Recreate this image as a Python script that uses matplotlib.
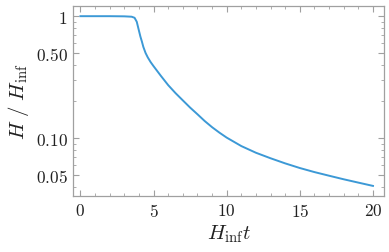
import numpy as np
import matplotlib.pyplot as plt
from matplotlib.ticker import FixedLocator, FixedFormatter, LogLocator, NullFormatter, MultipleLocator

plt.rcParams['mathtext.fontset'] = 'cm'
plt.rcParams['font.family'] = 'serif'
plt.rcParams['font.serif'] = ['cmr10', 'DejaVu Serif']

# values
t = [0, 1, 2, 3, 3.5, 3.7, 3.85, 4.0, 4.1, 4.2, 4.3, 4.45, 4.6, 4.8, 5.0,
     5.5, 6, 6.5, 7, 7.5, 8, 8.5, 9, 9.5, 10, 11, 12, 13, 14, 15,
     16, 17, 18, 19, 20]
H = [1, 1, 1, 0.997, 0.99, 0.97, 0.9, 0.76, 0.68, 0.62, 0.56, 0.50, 0.46, 0.42, 0.389,
     0.324, 0.272, 0.234, 0.204, 0.178, 0.157, 0.138, 0.123, 0.111, 0.101, 0.0861,
     0.0759, 0.0684, 0.0621, 0.0569, 0.0527, 0.0492, 0.046, 0.0432, 0.0406]

xticks = [0, 5, 10, 15, 20]
yticks = [0.05, 0.1, 0.5, 1]
ytick_labels = ['$0.05$', '$0.10$', '$0.50$', '$1$']

fig = plt.figure(figsize=(3.89, 2.53), dpi=100)
ax = fig.add_axes([0.188, 0.221, 0.799, 0.751])
ax.plot(t, H, color='#3C99D6', lw=1.4)
ax.set_yscale('log')
ax.set_xlim(-0.5, 20.75)
ax.set_ylim(0.0335, 1.21)

ax.xaxis.set_major_locator(FixedLocator(xticks))
ax.xaxis.set_major_formatter(FixedFormatter(['$%d$' % v for v in xticks]))
ax.xaxis.set_minor_locator(MultipleLocator(1))
ax.yaxis.set_major_locator(FixedLocator(yticks))
ax.yaxis.set_major_formatter(FixedFormatter(ytick_labels))
ax.yaxis.set_minor_locator(LogLocator(base=10, subs=np.arange(2, 10)))
ax.yaxis.set_minor_formatter(NullFormatter())

for s in ax.spines.values():
    s.set_color('#a0a0a0')
    s.set_linewidth(0.9)
ax.tick_params(which='both', direction='in', top=True, right=True,
               color='#a0a0a0', labelsize=12.5, labelcolor='#222222', pad=4)
ax.tick_params(which='major', length=4.5, width=0.8)
ax.tick_params(which='minor', length=2.5, width=0.6)

ax.set_xlabel(r'$H_{\rm inf}t$', fontsize=15, color='#222222', labelpad=3)
ax.set_ylabel(r'$H\ /\ H_{\rm inf}$', fontsize=15, color='#222222', labelpad=3)

fig.savefig('out.png', dpi=100)
